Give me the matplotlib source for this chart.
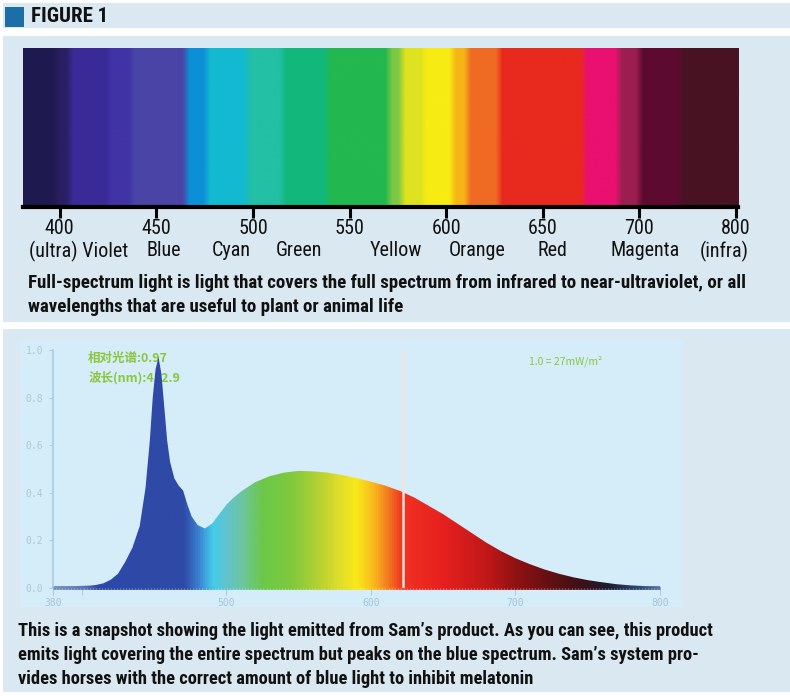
import numpy as np
import matplotlib
matplotlib.use("Agg")
import matplotlib.pyplot as plt
from matplotlib import font_manager
from matplotlib.patches import Rectangle
from matplotlib.colors import LinearSegmentedColormap, to_rgb
from matplotlib.collections import LineCollection
from matplotlib.transforms import blended_transform_factory

# ---------------- data ----------------
bar_tick_nm = [400, 450, 500, 550, 600, 650, 700, 800]
bar_tick_labels = ["400", "450", "500", "550", "600", "650", "700", "800"]
color_names = ["(ultra) Violet", "Blue", "Cyan", "Green", "Yellow",
               "Orange", "Red", "Magenta", "(infra)"]
color_name_nm = [410, 454, 489, 524, 574, 616, 655, 706, 788]

band_edges_nm = [381, 398, 405, 425, 437, 465, 476, 497, 515, 538, 570,
                 577, 588, 603, 611, 627, 671, 689, 700, 742, 802]
band_colors = ["#1f1a4f", "#2b1f62", "#3a2a98", "#4133a6", "#4a44a6",
               "#0c8fd6", "#12bad0", "#22c0a5", "#12b87c", "#22b94f",
               "#7ec843", "#dde31f", "#f8ec14", "#f7b517", "#f06a22",
               "#e8291f", "#ea1070", "#9c1f50", "#5e0a30", "#4a1222"]

wavelength_nm = [380, 385, 390, 395, 400, 405, 410, 415, 420, 425, 430, 435,
                 440, 444, 447, 449, 451, 453, 455, 457, 459, 461, 464, 467,
                 470, 473, 476, 480, 485, 490, 495, 500, 505, 510, 520, 530,
                 540, 550, 560, 570, 580, 590, 600, 610, 620, 630, 640, 650,
                 660, 670, 680, 690, 700, 710, 720, 730, 740, 750, 760, 770,
                 780, 790, 800]
relative_intensity = [0.008, 0.008, 0.008, 0.008, 0.009, 0.010, 0.013, 0.020,
                      0.035, 0.060, 0.110, 0.170, 0.260, 0.420, 0.620, 0.800,
                      0.920, 0.970, 0.900, 0.760, 0.620, 0.530, 0.460, 0.430,
                      0.410, 0.350, 0.300, 0.265, 0.250, 0.270, 0.310, 0.350,
                      0.380, 0.405, 0.445, 0.470, 0.485, 0.492, 0.490, 0.485,
                      0.475, 0.462, 0.447, 0.430, 0.408, 0.380, 0.345, 0.310,
                      0.270, 0.230, 0.190, 0.155, 0.125, 0.100, 0.078, 0.060,
                      0.045, 0.033, 0.024, 0.016, 0.011, 0.008, 0.008]
peak_nm = 452.9
peak_value = 0.97
marker_nm = 622
scale_note = "1.0 = 27mW/m²"

chart_x_ticks = [380, 400, 500, 600, 700, 800]
chart_x_labels = ["380", "", "500", "600", "700", "800"]
chart_y_ticks = [0.0, 0.2, 0.4, 0.6, 0.8, 1.0]
chart_y_labels = ["0.0", "0.2", "0.4", "0.6", "0.8", "1.0"]

caption_top = ("Full-spectrum light is light that covers the full spectrum from infrared to near-ultraviolet, or all\n"
               "wavelengths that are useful to plant or animal life")
caption_bottom = ("This is a snapshot showing the light emitted from Sam’s product. As you can see, this product\n"
                  "emits light covering the entire spectrum but peaks on the blue spectrum. Sam’s system pro-\n"
                  "vides horses with the correct amount of blue light to inhibit melatonin")

# colour stops used to paint the area under the curve
fill_stop_nm = [380, 400, 410, 470, 480, 490, 500, 510, 525, 545, 565, 580,
                590, 602, 612, 622, 650, 680, 700, 720, 745, 765, 785, 800]
fill_stop_col = ["#7390b8", "#5a76b0", "#2e48a8", "#2e4aa6", "#3a7fd0", "#44cbea",
                 "#64c2cc", "#6cc6a2", "#6cc848", "#80c93e", "#b8d232", "#e4df28",
                 "#f8e91a", "#f9b81e", "#f37a20", "#f03222", "#e6201f", "#c21819",
                 "#921212", "#6c1012", "#3e1018", "#1d1c30", "#2e4672", "#5677aa"]

# ---------------- fonts ----------------
available = {f.name for f in font_manager.fontManager.ttflist}


def pick(*names):
    for n in names:
        if n in available:
            return n
    return "DejaVu Sans"


NARROW = pick("Liberation Sans Narrow", "Roboto Condensed", "DejaVu Sans Condensed", "Liberation Sans")
CJK = ["Noto Sans CJK SC", "DejaVu Sans"]

W, H = 790, 696
fig = plt.figure(figsize=(W / 100, H / 100), dpi=100)
fig.patch.set_facecolor("white")


def fx(px):
    return px / W


def fy(py):
    return 1 - py / H


def rect(x0, y0, x1, y1, color):
    fig.patches.append(Rectangle((fx(x0), fy(y1)), fx(x1) - fx(x0), fy(y0) - fy(y1),
                                 transform=fig.transFigure, facecolor=color,
                                 edgecolor="none", zorder=-5))


PANEL = "#d9e8f1"
rect(3, 3, 790, 28, PANEL)
rect(5, 7, 24, 27, "#1b6ea6")
rect(3, 36, 790, 322, PANEL)
rect(3, 329, 790, 692, PANEL)
rect(20, 340, 683, 607, "#d5edf9")

fig.text(fx(31), fy(17), "FIGURE 1", fontsize=15, fontweight="bold",
         family=NARROW, color="#111111", va="center", ha="left")

# ---------------- spectrum bar ----------------


def nm_to_u(nm):
    nm = np.asarray(nm, dtype=float)
    return np.where(nm <= 700, (nm - 400) / 50.0, 6 + (nm - 700) / 100.0)


u_lo, u_hi = float(nm_to_u(band_edges_nm[0])), float(nm_to_u(band_edges_nm[-1]))
ax1 = fig.add_axes([fx(23), fy(207), (738 - 23) / W, (207 - 48) / H])
ax1.set_zorder(2)
grid_u = np.linspace(u_lo, u_hi, 720)
edges_u = nm_to_u(band_edges_nm)
idx = np.clip(np.searchsorted(edges_u, grid_u, side="right") - 1, 0, len(band_colors) - 1)
rgb = np.array([to_rgb(band_colors[i]) for i in idx])
k = 7
kern = np.ones(k) / k
pad = np.pad(rgb, ((k // 2, k // 2), (0, 0)), mode="edge")
rgb = np.stack([np.convolve(pad[:, c], kern, mode="valid") for c in range(3)], axis=1)
ax1.imshow(rgb[np.newaxis, :, :], extent=[u_lo, u_hi, 0, 1], aspect="auto",
           interpolation="bilinear")
ax1.set_xlim(u_lo, u_hi)
ax1.set_ylim(0, 1)
for s in ["top", "left", "right"]:
    ax1.spines[s].set_visible(False)
ax1.spines["bottom"].set_color("black")
ax1.spines["bottom"].set_linewidth(3)
ax1.set_yticks([])
ax1.set_xticks(nm_to_u(bar_tick_nm))
ax1.set_xticklabels(bar_tick_labels, fontsize=14.5, family=NARROW, color="#111111")
ax1.tick_params(axis="x", direction="out", length=8, width=2.2, color="black", pad=0.5)
tr = blended_transform_factory(ax1.transData, ax1.transAxes)
for name, nm in zip(color_names, color_name_nm):
    ax1.text(float(nm_to_u(nm)), (207 - 251) / (207 - 48), name, transform=tr,
             fontsize=14.5, family=NARROW, color="#111111", ha="center", va="center")

fig.text(fx(28), fy(295), caption_top, fontsize=13.6, fontweight="bold",
         family=NARROW, color="#111111", va="center", ha="left", linespacing=1.4)

# ---------------- emission spectrum chart ----------------
ax2 = fig.add_axes([fx(53), fy(588), (660 - 53) / W, (588 - 350) / H])
ax2.set_zorder(2)
ax2.set_facecolor("none")
ax2.set_xlim(380, 800)
ax2.set_ylim(0, 1.0)

pos = (np.array(fill_stop_nm) - 380) / (800 - 380)
spec_cmap = LinearSegmentedColormap.from_list("emission", list(zip(pos, fill_stop_col)))
poly = ax2.fill_between(wavelength_nm, 0, relative_intensity, facecolor="none",
                        edgecolor="none")
grad = np.linspace(380, 800, 900)[np.newaxis, :]
im = ax2.imshow(grad, extent=[380, 800, 0, 1], aspect="auto", cmap=spec_cmap,
                vmin=380, vmax=800, origin="lower", interpolation="bilinear", zorder=2)
im.set_clip_path(poly.get_paths()[0], transform=ax2.transData)

bx = np.linspace(380, 800, 200)
segs = np.stack([np.column_stack([bx[:-1], np.zeros(199)]),
                 np.column_stack([bx[1:], np.zeros(199)])], axis=1)
lc = LineCollection(segs, colors=spec_cmap((bx[:-1] - 380) / 420), linewidths=2.0,
                    zorder=3, clip_on=False)
ax2.add_collection(lc)

ax2.axvline(marker_nm, color="#f5e3da", lw=1.8, zorder=4)

for s in ["top", "right", "bottom"]:
    ax2.spines[s].set_visible(False)
ax2.spines["left"].set_color("#a9cfe6")
ax2.spines["left"].set_linewidth(1.3)
ax2.set_yticks(chart_y_ticks)
ax2.set_yticklabels(chart_y_labels, fontsize=7, color="#b2c6d4", family="DejaVu Sans Mono")
ax2.tick_params(axis="y", length=3, width=0.8, color="#a9cfe6", pad=4)
ax2.set_xticks(chart_x_ticks)
ax2.set_xticklabels(chart_x_labels, fontsize=7, color="#a3c4de", family="DejaVu Sans Mono")
ax2.tick_params(axis="x", length=5, width=0.8, color="#a9cfe6", pad=2)

# peak readout sits behind the emission fill
ax2.text(0.058, 0.99, f"相对光谱:{peak_value:.2f}\n波长(nm):{peak_nm}",
         transform=ax2.transAxes, fontsize=9, fontweight="bold", color="#8cc63c",
         family=CJK, va="top", ha="left", linespacing=1.5, zorder=1)
ax2.text(0.785, 0.975, scale_note, transform=ax2.transAxes, fontsize=7.5,
         color="#8cc63c", family=CJK, va="top", ha="left", zorder=5)

fig.text(fx(18), fy(655), caption_bottom, fontsize=13.3, fontweight="bold",
         family=NARROW, color="#111111", va="center", ha="left", linespacing=1.4)

fig.savefig("out.png", dpi=100, facecolor="white")
